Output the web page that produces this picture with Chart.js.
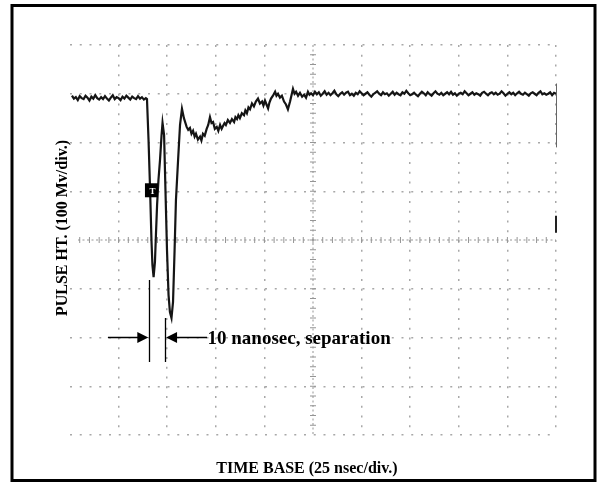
<!DOCTYPE html>
<html>
<head>
<meta charset="utf-8">
<script src="https://cdn.jsdelivr.net/npm/chart.js@4"></script>
<style>
  html, body { margin: 0; padding: 0; background: #fff; }
  canvas { display: block; }
</style>
</head>
<body>
<canvas id="c" width="598" height="485"></canvas>
<script>
// ---- data (time in ns, pulse height in mV) ----
const xTitle = 'TIME BASE (25 nsec/div.)';
const yTitle = 'PULSE HT. (100 Mv/div.)';
const noteText = '10 nanosec, separation';
const timeRange = [0, 250];      // 10 div x 25 ns
const mvRange = [-400, 400];     // 8 div x 100 mV
const timeStep = 25;
const mvStep = 100;

const preTrace = [
  [1,296],[2,290],[3,293],[4,287],[5,295],[6,291],[7,289],[8,296],[9,292],[10,286],
  [11,294],[12,290],[13,297],[14,291],[15,288],[16,293],[17,289],[18,295],[19,290],[20,286],
  [21,292],[22,297],[23,289],[24,293],[25,291],[26,287],[27,294],[28,290],[29,296],[30,292],
  [31,288],[32,294],[33,291],[34,289],[35,295],[36,290],[37,293],[38,288],[39,291]
];
const pulseTrace = [
  [39.6,289],[40.4,205],[41.2,103],[41.9,0],[42.4,-51],[43.0,-76],[43.7,-45],[44.2,10],
  [44.8,72],[45.5,123],[46.3,164],[47.1,215],[47.6,240],[48.4,215],[49.1,103],[49.9,-21],
  [50.7,-113],[51.4,-148],[52.2,-160],[53.0,-127],[53.8,-21],[54.5,82],[55.6,164],[56.6,236],
  [57.6,269]
];
const recoveryTrace = [
  [58.6,250],[60.0,232],[60.8,226],[61.7,230],[62.5,218],[63.3,224],[64.1,212],[64.8,218],
  [65.8,206],[66.9,212],[67.6,204],[68.4,218],[69.3,214],[70.3,228],[71.1,236],[72.0,252],
  [72.8,240],[73.6,242],[74.5,228],[75.5,232],[76.3,224],[77.2,236],[78.0,228],[78.7,234],
  [79.5,240],[80.2,236],[81.2,246],[82.3,240],[83.3,248],[84.4,242],[85.1,252],[85.9,248],
  [86.6,256],[87.4,250],[88.4,260],[89.5,256],[90.2,266],[91.0,260],[91.8,272],[92.6,268],
  [93.6,280],[94.6,274],[95.6,284],[96.7,290],[97.7,280],[98.8,284],[99.5,276],[100.3,286],
  [101.1,278],[101.9,270],[102.6,282],[103.4,290],[104.4,296],[105.5,304],[106.2,296],[107.0,300],
  [108.0,292],[109.0,296],[110.1,284],[111.1,278],[112.1,268],[113.2,284],[114.0,298],[114.7,310],
  [115.5,300],[116.3,304],[117.3,296],[118.3,302],[119.4,294],[120.4,298],[121.4,292],[122.4,304],
  [123.2,298]
];
const postTrace = [
  [124,301],[125,297],[126,304],[127,299],[128,303],[129,296],[130,300],[131,305],[132,298],[133,302],
  [134,297],[135,301],[136,306],[137,299],[138,295],[139,300],[140,303],[141,298],[142,302],[143,304],
  [144,297],[145,300],[146,296],[147,302],[148,299],[149,305],[150,301],[151,297],[152,300],[153,303],
  [154,298],[155,294],[156,299],[157,302],[158,305],[159,300],[160,297],[161,303],[162,299],[163,301],
  [164,296],[165,300],[166,304],[167,298],[168,302],[169,299],[170,297],[171,303],[172,300],[173,306],
  [174,301],[175,297],[176,299],[177,302],[178,298],[179,295],[180,300],[181,304],[182,301],[183,297],
  [184,303],[185,299],[186,296],[187,301],[188,305],[189,300],[190,298],[191,302],[192,297],[193,300],
  [194,303],[195,299],[196,304],[197,298],[198,301],[199,296],[200,300],[201,302],[202,299],[203,305],
  [204,301],[205,297],[206,300],[207,303],[208,298],[209,301],[210,299],[211,296],[212,302],[213,304],
  [214,300],[215,297],[216,301],[217,303],[218,299],[219,302],[220,298],[221,300],[222,305],[223,301],
  [224,296],[225,300],[226,303],[227,299],[228,302],[229,297],[230,301],[231,304],[232,300],[233,298],
  [234,302],[235,299],[236,296],[237,301],[238,303],[239,300],[240,297],[241,302],[242,305],[243,299],
  [244,301],[245,298],[246,300],[247,303],[248,297],[249,302],[250,300]
];

// annotation marks (ns / mV)
const separationLines = [[40.8, -82, -250], [48.9, -160, -250]];
const arrowLevel = -199;
const leftArrowFrom = 19.5;
const rightArrowTo = 70.5;
const triggerMarker = [41.9, 102];
const channelMarker = [250, 50, 15];
const edgeSegment = [250, 321, 190];

// ---- chart ----
const SERIF = '"Liberation Serif", "Times New Roman", serif';
const GRID_COLOR = '#a8a8a8';

const tracePoints = [].concat(preTrace, pulseTrace, recoveryTrace, postTrace).map(p => ({x: p[0], y: p[1]}));

const framePlugin = {
  id: 'frame',
  beforeDraw(chart) {
    const ctx = chart.ctx;
    ctx.save();
    ctx.fillStyle = '#fff';
    ctx.fillRect(0, 0, chart.width, chart.height);
    ctx.strokeStyle = '#000';
    ctx.lineWidth = 3;
    ctx.strokeRect(12, 5.5, 583, 475);
    ctx.restore();
  }
};

const graticulePlugin = {
  id: 'graticule',
  beforeDatasetsDraw(chart) {
    const {ctx, chartArea: a, scales: {x, y}} = chart;
    const cx = x.getPixelForValue((timeRange[0] + timeRange[1]) / 2);
    const cy = y.getPixelForValue(0);
    ctx.save();
    ctx.strokeStyle = '#959595';
    ctx.lineWidth = 1;
    ctx.setLineDash([2, 2.5]);
    ctx.beginPath();
    ctx.moveTo(a.left + 8, cy); ctx.lineTo(a.right, cy);
    ctx.moveTo(cx, a.top); ctx.lineTo(cx, a.bottom);
    ctx.stroke();
    ctx.setLineDash([]);
    ctx.beginPath();
    for (let t = timeRange[0] + 5; t < timeRange[1]; t += 5) {
      const px = x.getPixelForValue(t);
      ctx.moveTo(px, cy - 3); ctx.lineTo(px, cy + 3);
    }
    for (let v = mvRange[0] + 20; v < mvRange[1]; v += 20) {
      const py = y.getPixelForValue(v);
      ctx.moveTo(cx - 3, py); ctx.lineTo(cx + 3, py);
    }
    ctx.stroke();
    // right edge segment + channel marker
    const mx = x.getPixelForValue(channelMarker[0]);
    ctx.strokeStyle = '#666';
    ctx.lineWidth = 1;
    ctx.beginPath();
    ctx.moveTo(mx + 0.5, y.getPixelForValue(edgeSegment[1]));
    ctx.lineTo(mx + 0.5, y.getPixelForValue(edgeSegment[2]));
    ctx.stroke();
    ctx.strokeStyle = '#222';
    ctx.lineWidth = 2;
    ctx.beginPath();
    ctx.moveTo(mx, y.getPixelForValue(channelMarker[1]));
    ctx.lineTo(mx, y.getPixelForValue(channelMarker[2]));
    ctx.stroke();
    ctx.restore();
  }
};

const annotationPlugin = {
  id: 'annot',
  afterDatasetsDraw(chart) {
    const {ctx, chartArea: a, scales: {x, y}} = chart;
    ctx.save();
    ctx.strokeStyle = '#000';
    ctx.fillStyle = '#000';
    ctx.lineWidth = 1.3;
    ctx.beginPath();
    separationLines.forEach(([t, y1, y2]) => {
      const px = Math.round(x.getPixelForValue(t)) + 0.5;
      ctx.moveTo(px, y.getPixelForValue(y1));
      ctx.lineTo(px, y.getPixelForValue(y2));
    });
    ctx.stroke();
    const ay = Math.round(y.getPixelForValue(arrowLevel)) + 0.5;
    const tipL = x.getPixelForValue(separationLines[0][0]) - 1;
    const tipR = x.getPixelForValue(separationLines[1][0]) + 1;
    ctx.beginPath();
    ctx.moveTo(x.getPixelForValue(leftArrowFrom), ay); ctx.lineTo(tipL - 8, ay);
    ctx.moveTo(tipR + 8, ay); ctx.lineTo(x.getPixelForValue(rightArrowTo), ay);
    ctx.stroke();
    ctx.beginPath();
    ctx.moveTo(tipL, ay); ctx.lineTo(tipL - 11, ay - 5.5); ctx.lineTo(tipL - 11, ay + 5.5); ctx.closePath();
    ctx.moveTo(tipR, ay); ctx.lineTo(tipR + 11, ay - 5.5); ctx.lineTo(tipR + 11, ay + 5.5); ctx.closePath();
    ctx.fill();
    ctx.font = 'bold 19px ' + SERIF;
    ctx.textAlign = 'left';
    ctx.textBaseline = 'alphabetic';
    ctx.fillText(noteText, x.getPixelForValue(rightArrowTo) + 0.5, ay + 6.5);
    const tx = x.getPixelForValue(triggerMarker[0]);
    const ty = y.getPixelForValue(triggerMarker[1]);
    ctx.fillRect(tx - 6.5, ty - 7, 13, 14);
    ctx.fillStyle = '#fff';
    ctx.font = 'bold 9px ' + SERIF;
    ctx.textAlign = 'center';
    ctx.textBaseline = 'middle';
    ctx.fillText('T', tx + 1, ty + 1);
    ctx.fillStyle = '#000';
    ctx.font = 'bold 16px ' + SERIF;
    ctx.textAlign = 'center';
    ctx.textBaseline = 'middle';
    ctx.fillText(xTitle, 307, a.bottom + 34);
    ctx.save();
    ctx.translate(a.left - 7, 228);
    ctx.rotate(-Math.PI / 2);
    ctx.fillText(yTitle, 0, 0);
    ctx.restore();
    ctx.restore();
  }
};

const gridColor = (ctx) => {
  const v = ctx.tick && ctx.tick.value;
  if (v === timeRange[0] && ctx.scale.axis === 'x') return 'rgba(0,0,0,0)';
  if (v === (timeRange[0] + timeRange[1]) / 2 && ctx.scale.axis === 'x') return 'rgba(0,0,0,0)';
  if (v === 0 && ctx.scale.axis === 'y') return 'rgba(0,0,0,0)';
  return GRID_COLOR;
};

new Chart(document.getElementById('c'), {
  type: 'line',
  data: {
    datasets: [{
      data: tracePoints,
      borderColor: '#151515',
      borderWidth: 2.2,
      pointRadius: 0,
      tension: 0,
      fill: false
    }]
  },
  options: {
    responsive: false,
    animation: false,
    devicePixelRatio: 1,
    layout: { padding: { left: 70, top: 45, right: 42, bottom: 50 } },
    plugins: { legend: { display: false }, tooltip: { enabled: false } },
    scales: {
      x: {
        type: 'linear', min: timeRange[0], max: timeRange[1],
        ticks: { display: false, stepSize: timeStep },
        grid: { color: gridColor, lineWidth: 1.5, drawTicks: false },
        border: { display: false, dash: [2, 7.75] }
      },
      y: {
        type: 'linear', min: mvRange[0], max: mvRange[1],
        ticks: { display: false, stepSize: mvStep },
        grid: { color: gridColor, lineWidth: 1.5, drawTicks: false },
        border: { display: false, dash: [2, 7.75] }
      }
    }
  },
  plugins: [framePlugin, graticulePlugin, annotationPlugin]
});
</script>
</body>
</html>
